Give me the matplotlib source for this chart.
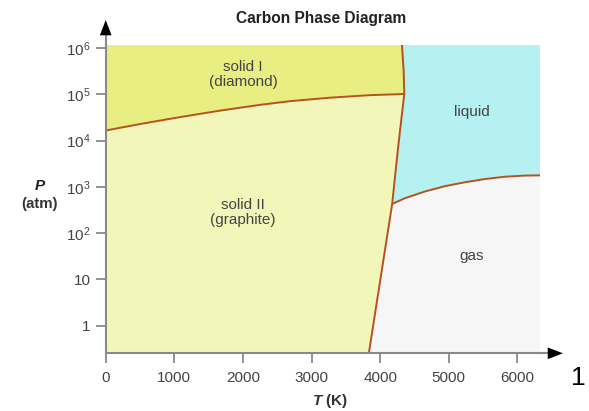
import numpy as np
import matplotlib
matplotlib.use("Agg")
import matplotlib.pyplot as plt

plt.rcParams['font.family'] = ['Liberation Sans', 'DejaVu Sans']
plt.rcParams['mathtext.fontset'] = 'custom'
plt.rcParams['mathtext.rm'] = 'Liberation Sans'
plt.rcParams['mathtext.it'] = 'Liberation Sans:italic'
plt.rcParams['mathtext.bf'] = 'Liberation Sans:bold'

# Phase boundaries: temperature (K) and log10 of pressure (atm)
diamond_graphite_T = [0, 500, 1082, 1665, 2248, 2685, 3267, 3850, 4352]
diamond_graphite_logP = [4.22, 4.36, 4.51, 4.65, 4.775, 4.855, 4.93, 4.985, 5.01]

melting_T = [4318, 4343, 4352, 4300, 4258, 4175]
melting_logP = [6.07, 5.50, 5.01, 4.35, 3.80, 2.63]

liquid_gas_T = [4175, 4360, 4651, 4943, 5234, 5525, 5817, 6108, 6330]
liquid_gas_logP = [2.63, 2.755, 2.90, 3.015, 3.10, 3.17, 3.22, 3.245, 3.25]

graphite_gas_T = [4175, 3835]
graphite_gas_logP = [2.63, -0.60]

x_ticks = [0, 1000, 2000, 3000, 4000, 5000, 6000]
y_ticks = [1, 10, 1e2, 1e3, 1e4, 1e5, 1e6]
y_tick_labels = ['1', '10', r'10$^{2}$', r'10$^{3}$', r'10$^{4}$', r'10$^{5}$', r'10$^{6}$']

T_min, T_max = 0, 6330
logP_min, logP_max = -0.60, 6.07

region_labels = [
    ("solid I\n(diamond)", 2000, 5.44),
    ("solid II\n(graphite)", 2000, 2.44),
    ("liquid", 5335, 4.62),
    ("gas", 5335, 1.51),
]

c_diamond = '#e8ee82'
c_graphite = '#f2f7b9'
c_liquid = '#b4f1f0'
c_gas = '#f6f6f6'
c_line = '#b5521f'
c_axis = '#8a8a8a'
c_text = '#444444'

fig = plt.figure(figsize=(5.89, 4.11), dpi=100)
ax = fig.add_axes([0.1795, 0.1404, 0.7373, 0.7501])
ax.set_yscale('log')
ax.set_xlim(T_min, T_max)
ax.set_ylim(10 ** logP_min, 10 ** logP_max)
ax.set_facecolor(c_gas)

dg_T = np.array(diamond_graphite_T)
dg_P = 10 ** np.array(diamond_graphite_logP)
m_T = np.array(melting_T)
m_P = 10 ** np.array(melting_logP)
lg_T = np.array(liquid_gas_T)
lg_P = 10 ** np.array(liquid_gas_logP)
gg_T = np.array(graphite_gas_T)
gg_P = 10 ** np.array(graphite_gas_logP)

Pmin, Pmax = 10 ** logP_min, 10 ** logP_max

# liquid: right of melting line, above liquid-gas curve
liq_x = np.concatenate([m_T, lg_T[1:], [T_max]])
liq_y = np.concatenate([m_P, lg_P[1:], [Pmax]])
ax.fill(liq_x, liq_y, color=c_liquid, lw=0, zorder=1)

# graphite: below diamond line, left of melting / sublimation lines
gr_x = np.concatenate([[0], dg_T, m_T[3:], gg_T[1:]])
gr_y = np.concatenate([[Pmin], dg_P, m_P[3:], gg_P[1:]])
ax.fill(gr_x, gr_y, color=c_graphite, lw=0, zorder=1)

# diamond: above diamond line, left of upper melting line
di_x = np.concatenate([dg_T, m_T[2::-1][1:], [0]])
di_y = np.concatenate([dg_P, m_P[2::-1][1:], [Pmax]])
ax.fill(di_x, di_y, color=c_diamond, lw=0, zorder=1)

for xs, ys in [(dg_T, dg_P), (m_T, m_P), (lg_T, lg_P), (gg_T, gg_P)]:
    ax.plot(xs, ys, color=c_line, lw=1.4, zorder=3, solid_capstyle='butt',
            solid_joinstyle='round')

for text, t, lp in region_labels:
    ax.text(t, 10 ** lp, text, ha='center', va='center', fontsize=11,
            color=c_text, linespacing=1.1, zorder=4)

for s in ['top', 'right']:
    ax.spines[s].set_visible(False)
for s in ['left', 'bottom']:
    ax.spines[s].set_color(c_axis)
    ax.spines[s].set_linewidth(1.5)
    ax.spines[s].set_zorder(5)

ax.set_xticks(x_ticks)
ax.set_xticklabels([str(v) for v in x_ticks])
ax.set_yticks(y_ticks)
ax.set_yticklabels(y_tick_labels)
ax.minorticks_off()
ax.tick_params(axis='both', direction='out', length=7, width=1.3, color=c_axis,
               labelcolor=c_text, labelsize=11, pad=4)
ax.tick_params(axis='x', pad=6)

# axis shafts extending past the plotting area
ax.plot([0, 0], [1.0, 1.035], transform=ax.transAxes, color=c_axis, lw=1.5,
        clip_on=False, zorder=5)
ax.plot([1.0, 1.02], [0, 0], transform=ax.transAxes, color=c_axis, lw=1.5,
        clip_on=False, zorder=5)

# arrow heads
head = dict(arrowstyle='-|>,head_length=1.1,head_width=0.42',
            color='black', lw=0, shrinkA=0, shrinkB=0)
ax.annotate('', xy=(0, 1.081), xycoords='axes fraction', xytext=(0, 1.03),
            arrowprops=head, annotation_clip=False, zorder=7)
ax.annotate('', xy=(1.053, 0), xycoords='axes fraction', xytext=(1.015, 0),
            arrowprops=head, annotation_clip=False, zorder=7)

plt.rcParams['mathtext.bf'] = 'Liberation Sans:italic:bold'
fig.text(321 / 589, 1 - 18 / 411, 'Carbon Phase Diagram', ha='center', va='center',
         fontsize=11.2, fontweight='bold', color='#222222')
fig.text(40 / 589, 1 - 186 / 411, 'P', ha='center', va='center',
         fontsize=11, fontweight='bold', fontstyle='italic', color='#222222')
fig.text(40 / 589, 1 - 204 / 411, '(atm)', ha='center', va='center',
         fontsize=10.8, fontweight='bold', color='#333333')
fig.text(330 / 589, 1 - 401 / 411, r'$\mathbf{T}$ (K)', ha='center', va='center',
         fontsize=11, fontweight='bold', color='#333333')
fig.text(578 / 589, 1 - 378 / 411, '1', ha='center', va='center', fontsize=19,
         color='black')

fig.savefig('out.png', dpi=100)
